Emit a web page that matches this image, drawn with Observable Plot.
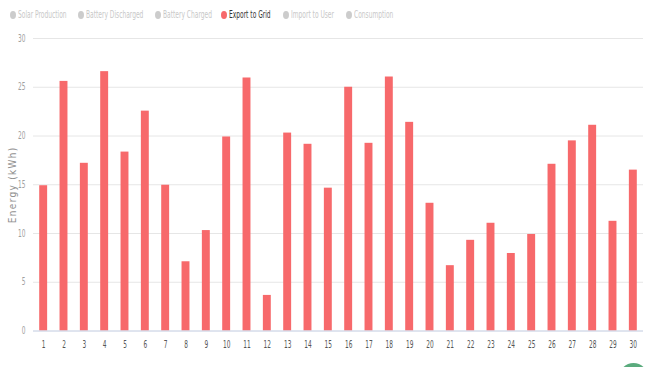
<!DOCTYPE html>
<html>
<head>
<meta charset="utf-8">
<script src="https://cdn.jsdelivr.net/npm/d3@7"></script>
<script src="https://cdn.jsdelivr.net/npm/@observablehq/plot@0.6"></script>
<style>
  html, body { margin: 0; padding: 0; background: #fff; }
  #wrap { position: relative; width: 648px; height: 367px; overflow: hidden; font-family: "DejaVu Sans Condensed", "Liberation Sans", sans-serif; }
  #legend { position: relative; height: 28px; }
  .item { position: absolute; top: 9px; font-size: 10px; line-height: 12px; white-space: nowrap; color: #c8c8c8; }
  .dot { position: absolute; left: 0; top: 2px; width: 6px; height: 8px; border-radius: 50%; background: #cccccc; }
  .txt { position: absolute; left: 8px; top: 0; display: inline-block; transform: scaleX(0.66); transform-origin: 0 50%; }
  .item.on { color: #333333; }
  .item.on .dot { background: #f7696b; }
  #fab { position: absolute; left: 619px; top: 363px; width: 29px; height: 29px; border-radius: 50%; background: #5aab7d; }
  svg { display: block; }
</style>
</head>
<body>
<div id="wrap">
  <div id="legend"></div>
  <div id="chart"></div>
  <div id="fab"></div>
</div>
<script>
const days = ["1","2","3","4","5","6","7","8","9","10","11","12","13","14","15","16","17","18","19","20","21","22","23","24","25","26","27","28","29","30"];
const exportToGrid = [14.9,25.6,17.2,26.6,18.35,22.55,14.95,7.1,10.3,19.9,25.95,3.65,20.3,19.15,14.65,25.0,19.25,26.05,21.4,13.1,6.7,9.3,11.05,7.95,9.9,17.1,19.5,21.1,11.25,16.5];
const yTicks = [0,5,10,15,20,25,30];
const legendLabels = ["Solar Production","Battery Discharged","Battery Charged","Export to Grid","Import to User","Consumption"];
const legendActive = [false,false,false,true,false,false];
const legendLeft = [10, 78, 155, 221, 283, 346];

const legend = document.getElementById("legend");
legendLabels.forEach((name, i) => {
  const it = document.createElement("div");
  it.className = "item" + (legendActive[i] ? " on" : "");
  it.style.left = legendLeft[i] + "px";
  const d = document.createElement("span"); d.className = "dot";
  const t = document.createElement("span"); t.className = "txt"; t.textContent = name;
  it.appendChild(d); it.appendChild(t);
  legend.appendChild(it);
});

const data = days.map((d, i) => ({day: d, value: exportToGrid[i]}));

const chart = Plot.plot({
  width: 648,
  height: 339,
  marginTop: 10,
  marginBottom: 36.5,
  marginLeft: 33,
  marginRight: 5,
  style: { fontFamily: "'DejaVu Sans Condensed', 'Liberation Sans', sans-serif", fontSize: "10px", background: "#fff", color: "#999999" },
  x: { domain: days, paddingInner: 0.61, paddingOuter: 0.305, round: false },
  y: { domain: [0, 30] },
  marks: [
    Plot.gridY(yTicks, { stroke: "#e6e6e6", strokeOpacity: 1, strokeWidth: 1 }),
    Plot.barY(data, { x: "day", y: "value", fill: "#f7696b" }),
    Plot.ruleY([0], { stroke: "#ccd6eb", strokeWidth: 1 }),
    Plot.axisX({ tickSize: 0, tickPadding: 10, label: null, fontSize: 10 }),
    Plot.axisY(yTicks, { tickSize: 0, tickPadding: 8, fontSize: 10, label: "Energy (kWh)", labelAnchor: "center", labelArrow: "none", labelOffset: 25 })
  ]
});
document.getElementById("chart").appendChild(chart);

// condense tick labels to mimic the narrow face of the original
const root = d3.select(chart);
root.selectAll('g[aria-label="x-axis tick label"] text, g[aria-label="y-axis tick label"] text')
  .attr("transform", function () { return (this.getAttribute("transform") || "") + " scale(0.65,1)"; });
root.selectAll('g[aria-label="x-axis tick label"]').attr("fill", "#555555");
root.selectAll('g[aria-label="x-axis tick label"] text').attr("fill", "#555555");
root.selectAll('g[aria-label="y-axis tick label"]').attr("fill", "#a0a0a0");
root.selectAll('g[aria-label="y-axis tick label"] text').attr("fill", "#a0a0a0");
root.selectAll('g[aria-label="y-axis label"]').attr("fill", "#909090");
root.selectAll('g[aria-label="y-axis label"] text')
  .style("letter-spacing", "1.3px")
  .attr("fill", "#909090");
</script>
</body>
</html>
